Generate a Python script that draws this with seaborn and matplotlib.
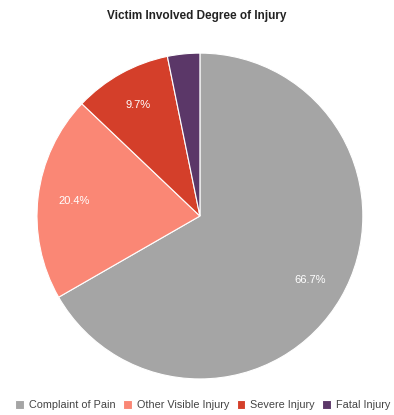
import matplotlib
matplotlib.use("Agg")
import matplotlib.pyplot as plt
import seaborn as sns

# Datos
categorias = ["Complaint of Pain", "Other Visible Injury", "Severe Injury", "Fatal Injury"]
porcentajes = [66.7, 20.4, 9.7, 3.2]
colores = ["#a5a5a5", "#fa8775", "#d43f2a", "#5b3768"]

sns.set_theme(style="white")
plt.rcParams['font.family'] = ['Liberation Sans', 'DejaVu Sans']

fig = plt.figure(figsize=(3.94, 4.15), dpi=100)
ax = fig.add_axes([0.0939, 0.0867, 0.827, 0.7855])

def etiqueta(p):
    # el trozo pequeño no lleva etiqueta
    return f"{p:.1f}%" if p > 5 else ""

cunas, textos, autotextos = ax.pie(
    porcentajes, colors=colores, startangle=90, counterclock=False,
    autopct=etiqueta, pctdistance=0.78,
    wedgeprops=dict(edgecolor="white", linewidth=0.8),
    textprops=dict(color="white", fontsize=8))
ax.set_xlim(-1.0, 1.0)
ax.set_ylim(-1.0, 1.0)
ax.set_aspect("equal")

fig.suptitle("Victim Involved Degree of Injury", y=0.975, fontsize=8.5,
             fontweight="bold", color="#222222")

fig.legend(cunas, categorias, loc="lower center", ncol=4, frameon=False,
           bbox_to_anchor=(0.515, -0.012), fontsize=7.8, handlelength=0.8,
           handleheight=0.8, handletextpad=0.45, columnspacing=0.7,
           labelcolor="#444444")

fig.savefig("out.png", dpi=100)
